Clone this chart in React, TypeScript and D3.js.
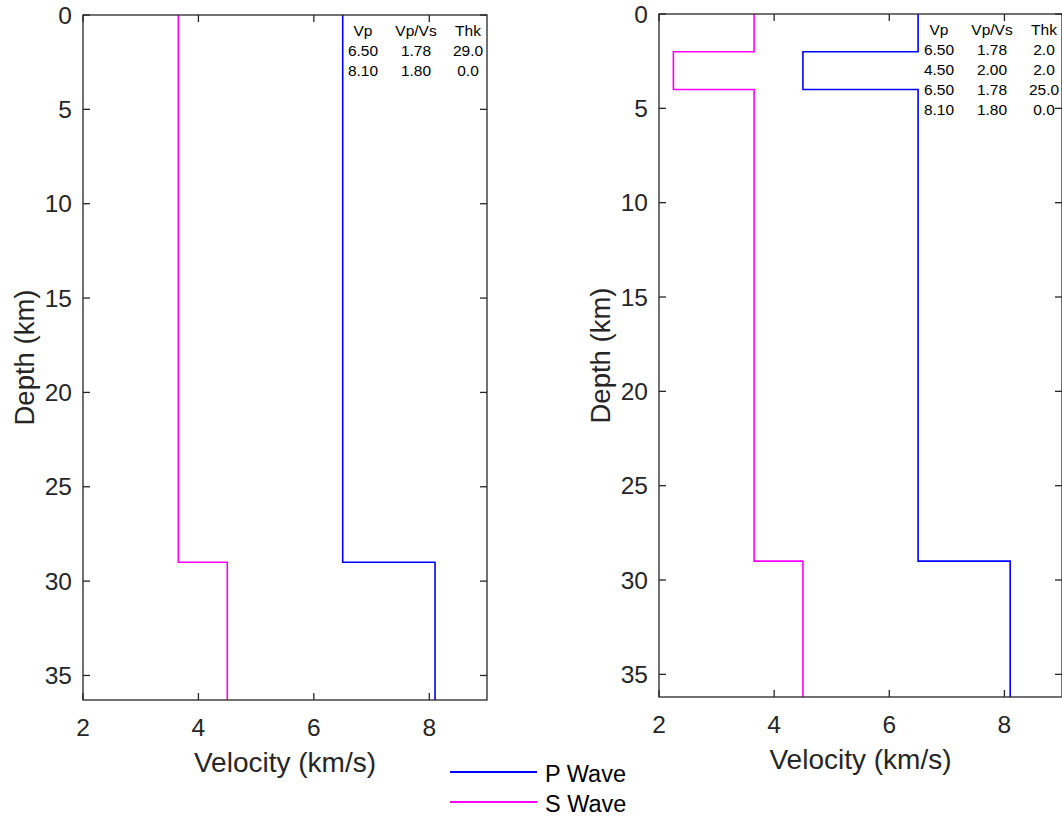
import React from "react";
import * as d3 from "d3";

// Layered velocity models: P velocity, Vp/Vs ratio and thickness (km, 0 = half-space)
const modelAVp = [6.5, 8.1];
const modelAVpVs = [1.78, 1.8];
const modelAThk = [29.0, 0.0];

const modelBVp = [6.5, 4.5, 6.5, 8.1];
const modelBVpVs = [1.78, 2.0, 1.78, 1.8];
const modelBThk = [2.0, 2.0, 25.0, 0.0];

const velocityTicks = [2, 4, 6, 8];
const depthTicks = [0, 5, 10, 15, 20, 25, 30, 35];
const tableHeaders = ["Vp", "Vp/Vs", "Thk"];
const legendLabels = ["P Wave", "S Wave"];

const P_COLOR = "#0000ff";
const S_COLOR = "#ff00ff";
const AXIS_COLOR = "#262626";
const FONT = "'Liberation Sans', Arial, Helvetica, sans-serif";

type Panel = {
  left: number;
  top: number;
  width: number;
  height: number;
  maxDepth: number;
  vp: number[];
  ratio: number[];
  thk: number[];
};

const panels: Panel[] = [
  { left: 83, top: 15, width: 404, height: 685, maxDepth: 36.3, vp: modelAVp, ratio: modelAVpVs, thk: modelAThk },
  { left: 659, top: 14, width: 403, height: 683, maxDepth: 36.2, vp: modelBVp, ratio: modelBVpVs, thk: modelBThk },
];

// Build a step profile (velocity vs depth) from layer values and thicknesses
function profile(vel: number[], thk: number[], maxDepth: number): [number, number][] {
  const pts: [number, number][] = [];
  let z = 0;
  vel.forEach((v, i) => {
    const bottom = thk[i] > 0 ? z + thk[i] : maxDepth;
    pts.push([v, z], [v, bottom]);
    z = bottom;
  });
  return pts;
}

function ModelPanel({ p }: { p: Panel }) {
  const x = d3.scaleLinear().domain([2, 9]).range([p.left, p.left + p.width]);
  const y = d3.scaleLinear().domain([0, p.maxDepth]).range([p.top, p.top + p.height]);
  const line = d3
    .line<[number, number]>()
    .x((d) => x(d[0]))
    .y((d) => y(d[1]));
  const vs = p.vp.map((v, i) => v / p.ratio[i]);
  const pPath = line(profile(p.vp, p.thk, p.maxDepth)) || "";
  const sPath = line(profile(vs, p.thk, p.maxDepth)) || "";
  const x0 = p.left;
  const x1 = p.left + p.width;
  const y0 = p.top;
  const y1 = p.top + p.height;
  const tl = 7;
  const colX = [280, 333, 385].map((d) => p.left + d);
  const rowY = (i: number) => p.top + 21 + 20 * i;

  return (
    <g>
      <path d={sPath} fill="none" stroke={S_COLOR} strokeWidth={1.6} />
      <path d={pPath} fill="none" stroke={P_COLOR} strokeWidth={1.6} />

      {/* axes box with inward ticks on all sides */}
      <rect x={x0} y={y0} width={p.width} height={p.height} fill="none" stroke={AXIS_COLOR} strokeWidth={1.3} />
      {velocityTicks.map((t) => (
        <g key={"xt" + t}>
          <line x1={x(t)} x2={x(t)} y1={y1} y2={y1 - tl} stroke={AXIS_COLOR} strokeWidth={1.3} />
          <line x1={x(t)} x2={x(t)} y1={y0} y2={y0 + tl} stroke={AXIS_COLOR} strokeWidth={1.3} />
          <text x={x(t)} y={y1 + 36} textAnchor="middle" fontSize={24.5} fill={AXIS_COLOR} fontFamily={FONT}>
            {t}
          </text>
        </g>
      ))}
      {depthTicks.map((t) => (
        <g key={"yt" + t}>
          <line x1={x0} x2={x0 + tl} y1={y(t)} y2={y(t)} stroke={AXIS_COLOR} strokeWidth={1.3} />
          <line x1={x1} x2={x1 - tl} y1={y(t)} y2={y(t)} stroke={AXIS_COLOR} strokeWidth={1.3} />
          <text x={x0 - 11} y={y(t) + 8.5} textAnchor="end" fontSize={24.5} fill={AXIS_COLOR} fontFamily={FONT}>
            {t}
          </text>
        </g>
      ))}

      <text
        x={(x0 + x1) / 2}
        y={y1 + 72}
        textAnchor="middle"
        fontSize={28}
        fill={AXIS_COLOR}
        fontFamily={FONT}
      >
        Velocity (km/s)
      </text>
      <text
        transform={`translate(${x0 - 49},${(y0 + y1) / 2}) rotate(-90)`}
        textAnchor="middle"
        fontSize={27.5}
        fill={AXIS_COLOR}
        fontFamily={FONT}
      >
        Depth (km)
      </text>

      {/* layer table */}
      {tableHeaders.map((h, j) => (
        <text key={"h" + j} x={colX[j]} y={rowY(0)} textAnchor="middle" fontSize={15.5} fill="#000" fontFamily={FONT}>
          {h}
        </text>
      ))}
      {p.vp.map((v, i) => (
        <g key={"r" + i}>
          <text x={colX[0]} y={rowY(i + 1)} textAnchor="middle" fontSize={15.5} fill="#000" fontFamily={FONT}>
            {v.toFixed(2)}
          </text>
          <text x={colX[1]} y={rowY(i + 1)} textAnchor="middle" fontSize={15.5} fill="#000" fontFamily={FONT}>
            {p.ratio[i].toFixed(2)}
          </text>
          <text x={colX[2]} y={rowY(i + 1)} textAnchor="middle" fontSize={15.5} fill="#000" fontFamily={FONT}>
            {p.thk[i].toFixed(1)}
          </text>
        </g>
      ))}
    </g>
  );
}

export default function App() {
  const legendColors = [P_COLOR, S_COLOR];
  return (
    <svg
      width={1062}
      height={818}
      style={{ position: "absolute", left: 0, top: 0, background: "#fff", overflow: "hidden" }}
    >
      <rect x={0} y={0} width={1062} height={818} fill="#fff" />
      {panels.map((p, i) => (
        <ModelPanel key={i} p={p} />
      ))}
      {legendLabels.map((l, i) => (
        <g key={l}>
          <line x1={450} x2={537} y1={772 + 30 * i} y2={772 + 30 * i} stroke={legendColors[i]} strokeWidth={1.8} />
          <text x={545} y={782 + 30 * i} fontSize={23.5} fill="#000" fontFamily={FONT}>
            {l}
          </text>
        </g>
      ))}
    </svg>
  );
}
